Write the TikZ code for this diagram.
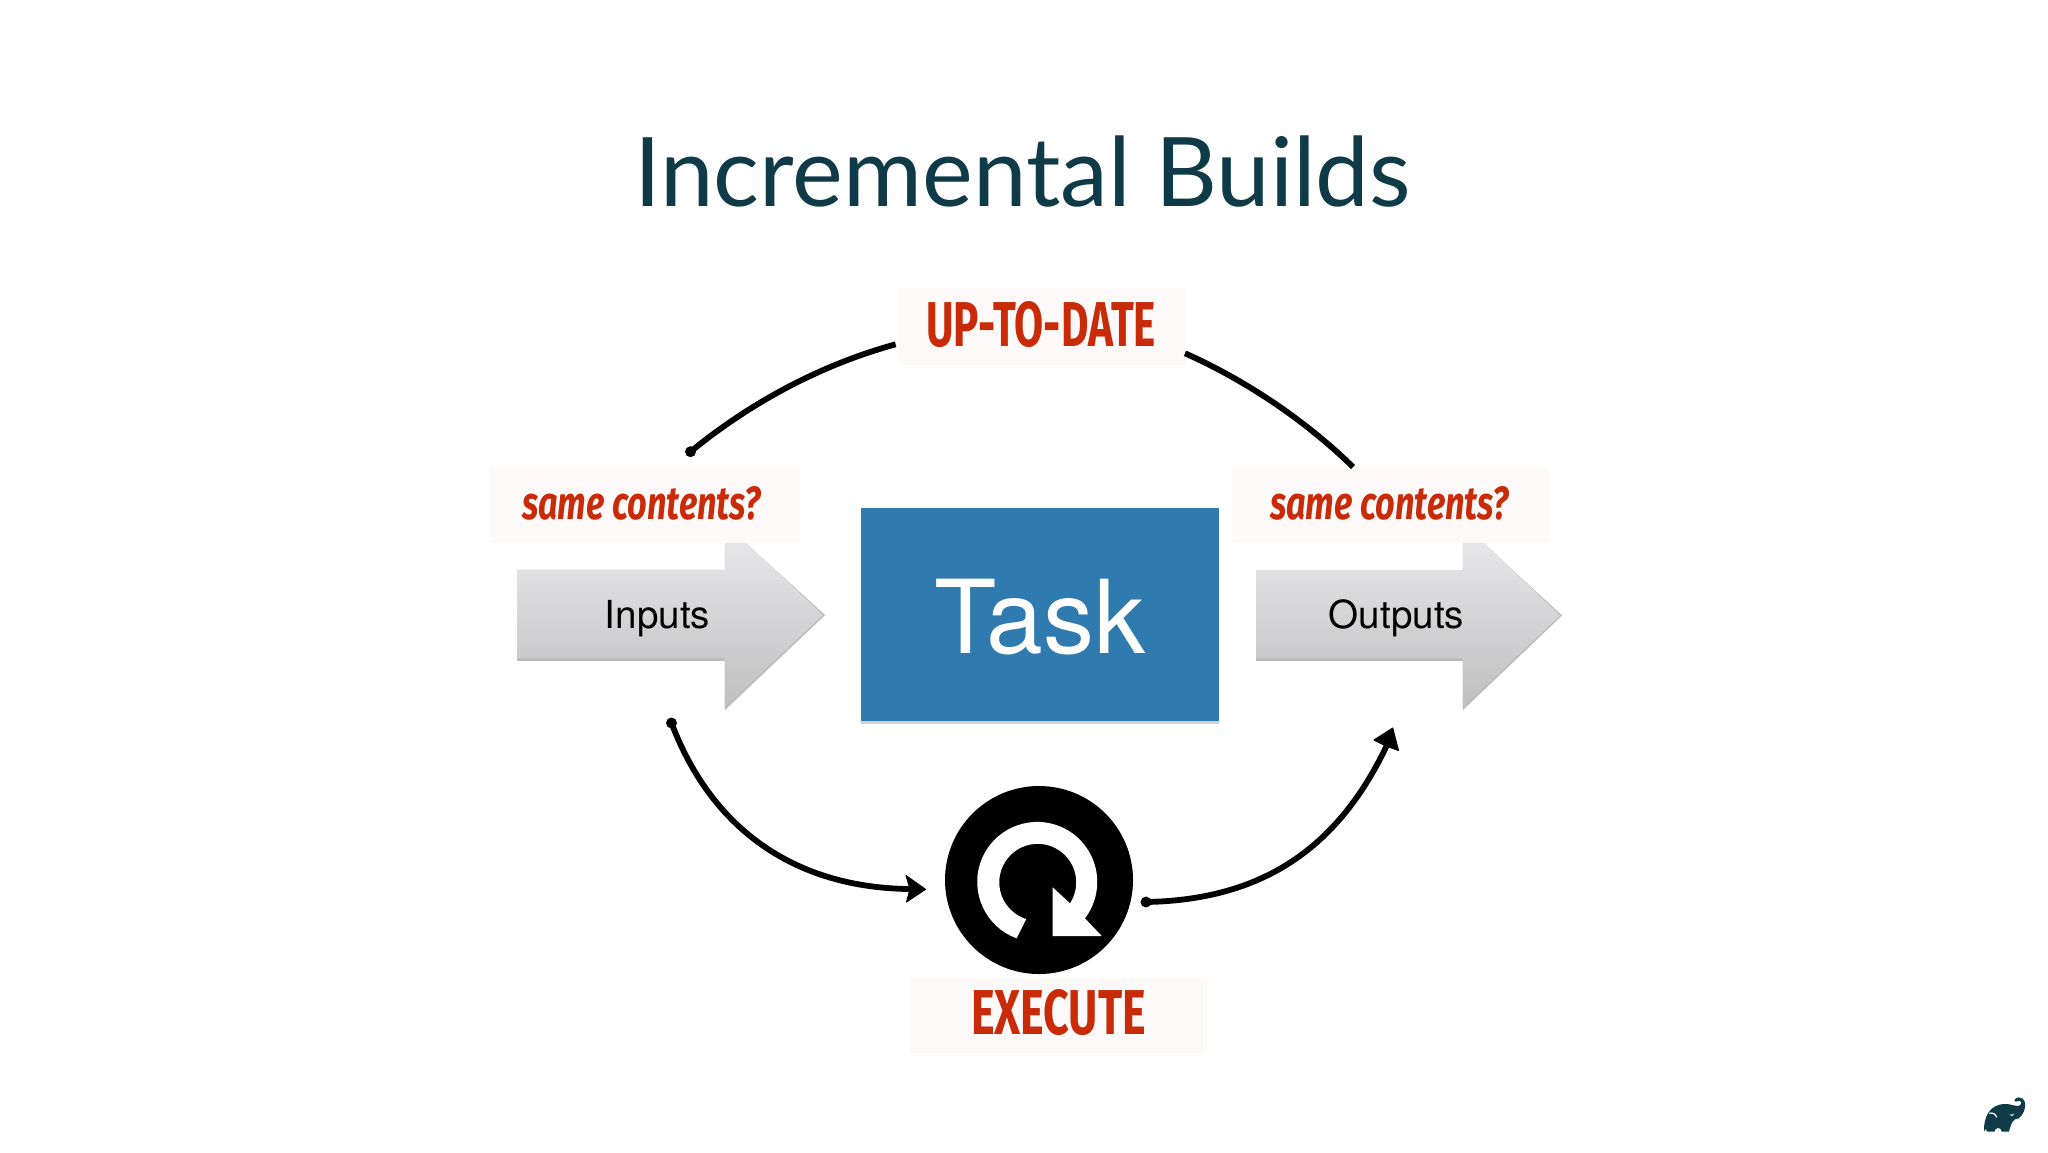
\documentclass[tikz,border=0pt]{standalone}
\usepackage{fontspec}
\usepackage{graphicx}
\setmainfont{TeX Gyre Heros}
\newfontfamily\titlefont{Lato}
\newfontfamily\brushfont{Fira Sans}
\usetikzlibrary{arrows.meta,calc}
\definecolor{titleink}{HTML}{0F3A47}
\definecolor{taskblue}{HTML}{2F7BAF}
\definecolor{brushred}{HTML}{C92A08}
\definecolor{labelbg}{HTML}{FDF9F8}
\definecolor{gradtop}{HTML}{EBEAEC}
\definecolor{gradbot}{HTML}{BFBFC0}
\tikzset{
  labelbox/.style={fill=labelbg,draw=none},
  blockarrow/.style={top color=gradtop,bottom color=gradbot,draw=none},
  blockshadow/.style={fill=black!45,draw=none,opacity=.6},
  softshadow/.style={fill=black!35,draw=none,opacity=.5},
  brush/.style={text=brushred,inner sep=0pt,font=\brushfont\bfseries},
  brushslant/.style={text=brushred,inner sep=0pt,font=\brushfont\bfseries\itshape},
  flow/.style={line width=2.9pt,line cap=round,black},
  dotend/.style={fill=black,draw=none},
  tiphead/.style={fill=black,draw=black,line width=0.5pt,line join=round},
  gradlab/.style={text=black,inner sep=0pt,anchor=base,font=\fontsize{19.3pt}{22pt}\selectfont}
}
\begin{document}
\begin{tikzpicture}[x=0.5pt,y=-0.5pt]
\useasboundingbox (0,0) rectangle (2048,1152);
\fill[white] (0,0) rectangle (2048,1152);
% title
\node[text=titleink,inner sep=0pt,anchor=base,font=\titlefont\fontsize{48pt}{58pt}\selectfont] (title) at (1022.5,206.5) {Incremental Builds};
% task
\fill[softshadow] (861,512) rectangle (1219,723.5);
\node[fill=taskblue,minimum width=178.8pt,minimum height=106.3pt,inner sep=0pt,anchor=north west] (task) at (861,508) {};
\node[text=white,inner sep=0pt,anchor=base,font=\fontsize{51pt}{60pt}\selectfont] (tasktext) at (1039.5,653) {Task};
% inputs arrow
\fill[blockshadow] (517,571) -- (725,571) -- (725,661) -- (517,661) -- cycle;
\fill[blockshadow] (725,524) -- (825,615) -- (725,710) -- cycle;
\shade[blockarrow] (517,569.5) -- (724.5,569.5) -- (724.5,522) -- (823,615) -- (724.5,708) -- (724.5,658) -- (517,658) -- cycle;
\node[gradlab] (inputs) at (657.5,628.5) {Inputs};
% outputs arrow
\fill[blockshadow] (1256,571) -- (1463,571) -- (1463,661) -- (1256,661) -- cycle;
\fill[blockshadow] (1463,524) -- (1562,615.5) -- (1463,710) -- cycle;
\shade[blockarrow] (1256,570) -- (1462.7,570) -- (1462.7,522) -- (1560,615.5) -- (1462.7,708) -- (1462.7,658) -- (1256,658) -- cycle;
\node[gradlab] (outputs) at (1396.5,628.5) {Outputs};
% label boxes
\node[labelbox,inner sep=0pt,minimum width=155.6pt,minimum height=37.5pt,anchor=north west] (boxL) at (488.4,468) {};
\node[labelbox,inner sep=0pt,minimum width=158.2pt,minimum height=37.5pt,anchor=north west] (boxR) at (1231.7,468) {};
\node[labelbox,inner sep=0pt,minimum width=143.5pt,minimum height=38.5pt,anchor=north west] (boxT) at (899,288) {};
\node[labelbox,inner sep=0pt,minimum width=148.5pt,minimum height=37.5pt,anchor=north west] (boxB) at (910,978) {};
\node[brushslant] (sameL) at (641.5,503) {\resizebox{119.5pt}{16.5pt}{same contents?}};
\node[brushslant] (sameR) at (1389.5,503) {\resizebox{119.5pt}{16.5pt}{same contents?}};
\node[brush] (upto) at (1041,324.5) {\resizebox{115pt}{22.5pt}{UP-TO-DATE}};
\node[brush] (exec) at (1058.5,1012.5) {\resizebox{87.5pt}{22.5pt}{EXECUTE}};
% execute icon
\fill[black] (1039,880) circle[radius=94];
\fill[white] (1016.7,938.3) arc[start angle=-250,end angle=37.3,radius=60] -- (1101.7,936) -- (1052.7,936) -- (1052.7,887.3) -- (1070,903.3) arc[start angle=33,end angle=-252.7,radius=38.5] -- cycle;
\node[inner sep=0pt,minimum size=0pt] (icon) at (1039,880) {};
% connector ends
\coordinate (tlA) at (690.5,451.7);
\coordinate (tlB) at (895.6,344.3);
\coordinate (trA) at (1185,353.3);
\coordinate (trB) at (1353,467);
\coordinate (blA) at (671.5,723);
\coordinate (blB) at (908,889);
\coordinate (brA) at (1146,902);
\coordinate (brB) at (1387,745);
\draw[flow,line cap=butt] (tlA) .. controls (750,403) and (820,365) .. (tlB);
\fill[dotend] (tlA) circle[radius=5.5];
\draw[flow,line cap=butt] (trA) .. controls (1245,380) and (1305,420) .. (trB);
\draw[flow] (blA) .. controls (710,825) and (790,887) .. (blB);
\fill[dotend] (blA) circle[radius=5.5];
\draw[flow] (brA) .. controls (1255,900) and (1335,855) .. (brB);
\fill[dotend] (brA) circle[radius=5.5];
% heads
\fill[tiphead] (925.5,889.3) -- (906,875.5) -- (910,889) -- (906.5,902) -- cycle;
\fill[tiphead] (1392.7,728) -- (1374,740) -- (1386,746) -- (1398.5,750.5) -- cycle;
% gradle logo
\begin{scope}[shift={(1960,1080)},x=0.1667pt,y=-0.1667pt]
\fill[titleink] (72,155) .. controls (70,110) and (90,72) .. (135,72)
  .. controls (150,72) and (160,76) .. (170,78)
  .. controls (180,78) and (186,72) .. (184,66)
  .. controls (181,60) and (172,62) .. (168,65)
  .. controls (160,65) and (162,54) .. (176,52)
  .. controls (192,52) and (198,68) .. (195,82)
  .. controls (192,100) and (180,118) .. (165,118)
  .. controls (155,124) and (150,140) .. (147,155)
  -- (125,155) .. controls (124,140) and (105,140) .. (103,155)
  -- (80,155) .. controls (80,145) and (76,145) .. (72,155) -- cycle;
\draw[white,line width=0.6pt] (88,100) .. controls (98,96) and (108,104) .. (110,112);
\fill[white] (148,103) .. controls (152,110) and (158,110) .. (162,101) .. controls (158,105) and (152,105) .. (148,103) -- cycle;
\end{scope}
\end{tikzpicture}
\end{document}
